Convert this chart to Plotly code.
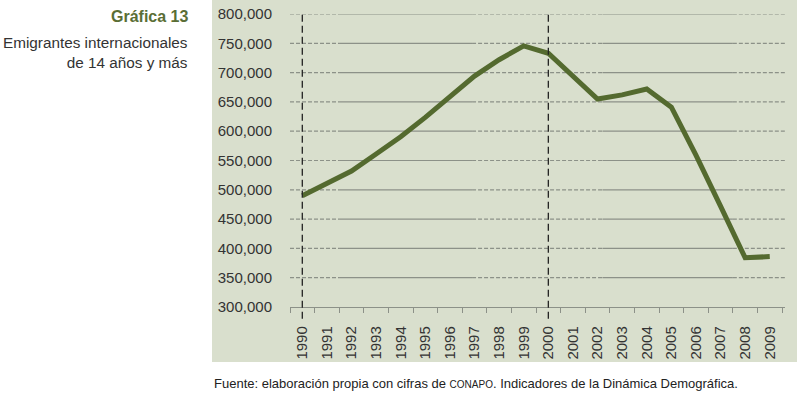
import plotly.graph_objects as go

years = [str(y) for y in range(1990, 2010)]
emigrantes = [490000, 510500, 532000, 561000, 590500, 623500, 659000, 694000, 722000, 745500,
              733000, 694500, 655000, 662000, 672000, 641000, 559000, 472000, 384000, 386000]
ytick_vals = [300000, 350000, 400000, 450000, 500000, 550000, 600000, 650000, 700000, 750000, 800000]
ytick_text = ["300,000", "350,000", "400,000", "450,000", "500,000", "550,000",
              "600,000", "650,000", "700,000", "750,000", "800,000"]
ref_years = ["1990", "2000"]

FONT = "Liberation Sans"
LINE = "#546a2f"
BG = "#d9dfcd"
GRID = "#8c9188"

fig = go.Figure()
fig.add_trace(go.Scatter(x=years, y=emigrantes, mode="lines",
                         line=dict(color=LINE, width=5), hoverinfo="skip"))

shapes = []
# panel background
shapes.append(dict(type="rect", xref="paper", yref="paper", x0=-0.1576, x1=1.05,
                   y0=-0.188, y1=1.08, fillcolor=BG, line=dict(width=0), layer="below"))
# gridlines: alternating dashed / solid segments (index coords of category axis)
segs = [(-0.5, 1.53, "dash"), (1.53, 6.9, "solid"), (6.9, 12.2, "dash"),
        (12.2, 17.5, "solid"), (17.5, 19.62, "dash")]
for v in ytick_vals[1:]:
    for a, b, d in segs:
        shapes.append(dict(type="line", xref="x", yref="y", x0=a, x1=b, y0=v, y1=v,
                           line=dict(color=GRID, width=1.2,
                                     dash="4px,2px" if d == "dash" else "solid"),
                           layer="below"))
# vertical reference dashed lines
for ry in ref_years:
    i = years.index(ry)
    shapes.append(dict(type="line", xref="x", yref="paper", x0=i, x1=i, y0=-0.04, y1=1.0,
                       line=dict(color="#222222", width=1.3, dash="7px,4px"), layer="above"))

fig.update_layout(
    template="none",
    width=797, height=396,
    margin=dict(l=290, r=12, t=14, b=89, pad=0),
    paper_bgcolor="white", plot_bgcolor="rgba(0,0,0,0)",
    showlegend=False,
    font=dict(family=FONT, color="#333333"),
    shapes=shapes,
    annotations=[
        dict(text="<b>Gráfica 13</b>", xref="paper", yref="paper", x=-0.202, y=0.99,
             xanchor="right", yanchor="middle", showarrow=False,
             font=dict(size=16, color="#5a6e35", family=FONT)),
        dict(text="Emigrantes internacionales<br>de 14 años y más", xref="paper", yref="paper",
             x=-0.202, y=0.94, xanchor="right", yanchor="top", align="right", showarrow=False,
             font=dict(size=15.3, color="#333333", family=FONT)),
        dict(text="Fuente: elaboración propia con cifras de <span style='font-size:10px'>CONAPO</span>. Indicadores de la Dinámica Demográfica.",
             xref="paper", yref="paper", x=-0.1576, y=-0.26, xanchor="left", yanchor="middle",
             showarrow=False, font=dict(size=13, color="#222222", family=FONT)),
    ],
)
fig.update_xaxes(type="category", range=[-0.5, 19.62], tickson="boundaries",
                 ticks="outside", ticklen=5, tickcolor=GRID, tickwidth=1,
                 showline=True, linecolor=GRID, linewidth=1.2, showgrid=False, zeroline=False,
                 automargin=False, ticklabeloverflow="allow", ticklabelstandoff=12,
                 tickangle=-90, tickfont=dict(size=15, color="#333333", family=FONT),
                 fixedrange=True)
fig.update_yaxes(range=[300000, 800000], tickvals=ytick_vals, ticktext=ytick_text,
                 showgrid=False, zeroline=False, showline=False, automargin=False,
                 ticklabeloverflow="allow",
                 ticks="outside", ticklen=14, tickcolor="rgba(0,0,0,0)",
                 tickfont=dict(size=15, color="#333333", family=FONT), fixedrange=True)

fig.write_html("out.html", config={"displayModeBar": False, "staticPlot": True},
               post_script="document.body.style.margin='0';")
